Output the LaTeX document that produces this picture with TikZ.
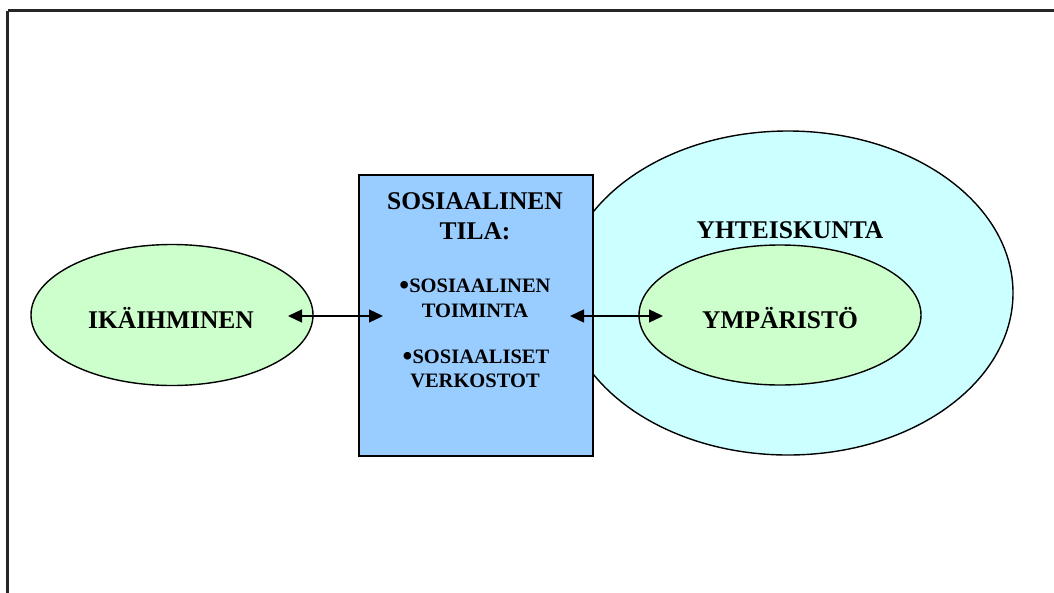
\documentclass[tikz,border=0pt]{standalone}
\usepackage{fontspec}
\setmainfont{Liberation Serif}
\usetikzlibrary{shapes.geometric,arrows.meta}
\definecolor{lgreen}{HTML}{CCFFCC}
\definecolor{lcyan}{HTML}{CCFFFF}
\definecolor{lblue}{HTML}{99CCFF}
\newcommand{\bigbul}{\raisebox{-2.5pt}{\fontsize{28}{28}\selectfont •}}
\tikzset{
  oval/.style={ellipse, draw=black, line width=1.4pt, inner sep=0pt},
  bigtxt/.style={anchor=base, inner sep=0pt, font=\fontsize{25.5}{30}\selectfont\bfseries},
  smalltxt/.style={anchor=base, inner sep=0pt, font=\fontsize{20.5}{24}\selectfont\bfseries},
  link/.style={line width=1.3pt, {Triangle[length=14pt,width=13pt]}-{Triangle[length=14pt,width=13pt]}}
}
\begin{document}
\begin{tikzpicture}[x=1pt,y=-1pt]
\useasboundingbox (0,0) rectangle (1054,592);
% frame
\draw[line width=2.6pt, black!85] (7.5,10.5) -- (1080,10.5);
\draw[line width=2.6pt, black!85] (7.5,10.5) -- (7.5,620);
% outer ellipse
\node[oval, fill=lcyan, minimum width=450pt, minimum height=324pt] (soc) at (788,293) {};
% box
\node[draw=black, line width=1.4pt, fill=lblue, rectangle, minimum width=234pt, minimum height=281pt, inner sep=0pt] (box) at (476,315.5) {};
% inner ellipse
\node[oval, fill=lgreen, minimum width=282pt, minimum height=140pt] (env) at (780,315) {};
% left ellipse
\node[oval, fill=lgreen, minimum width=282pt, minimum height=141pt] (old) at (172,315) {};
% texts
\node[bigtxt] (t1) at (171,328) {IKÄIHMINEN};
\node[bigtxt] (t2) at (790,238) {YHTEISKUNTA};
\node[bigtxt] (t3) at (780,328) {YMPÄRISTÖ};
\node[bigtxt] (t4) at (475,209) {SOSIAALINEN};
\node[bigtxt] (t5) at (475,239) {TILA:};
\node[smalltxt] (t6) at (475,292) {\bigbul SOSIAALINEN};
\node[smalltxt] (t7) at (475,317) {TOIMINTA};
\node[smalltxt] (t8) at (476,363) {\bigbul SOSIAALISET};
\node[smalltxt] (t9) at (475,387) {VERKOSTOT};
% arrows
\coordinate (a1) at (288,316);
\coordinate (a2) at (383,316);
\coordinate (b1) at (570,316);
\coordinate (b2) at (663,316);
\draw[link] (a1) -- (a2);
\draw[link] (b1) -- (b2);
\end{tikzpicture}
\end{document}
